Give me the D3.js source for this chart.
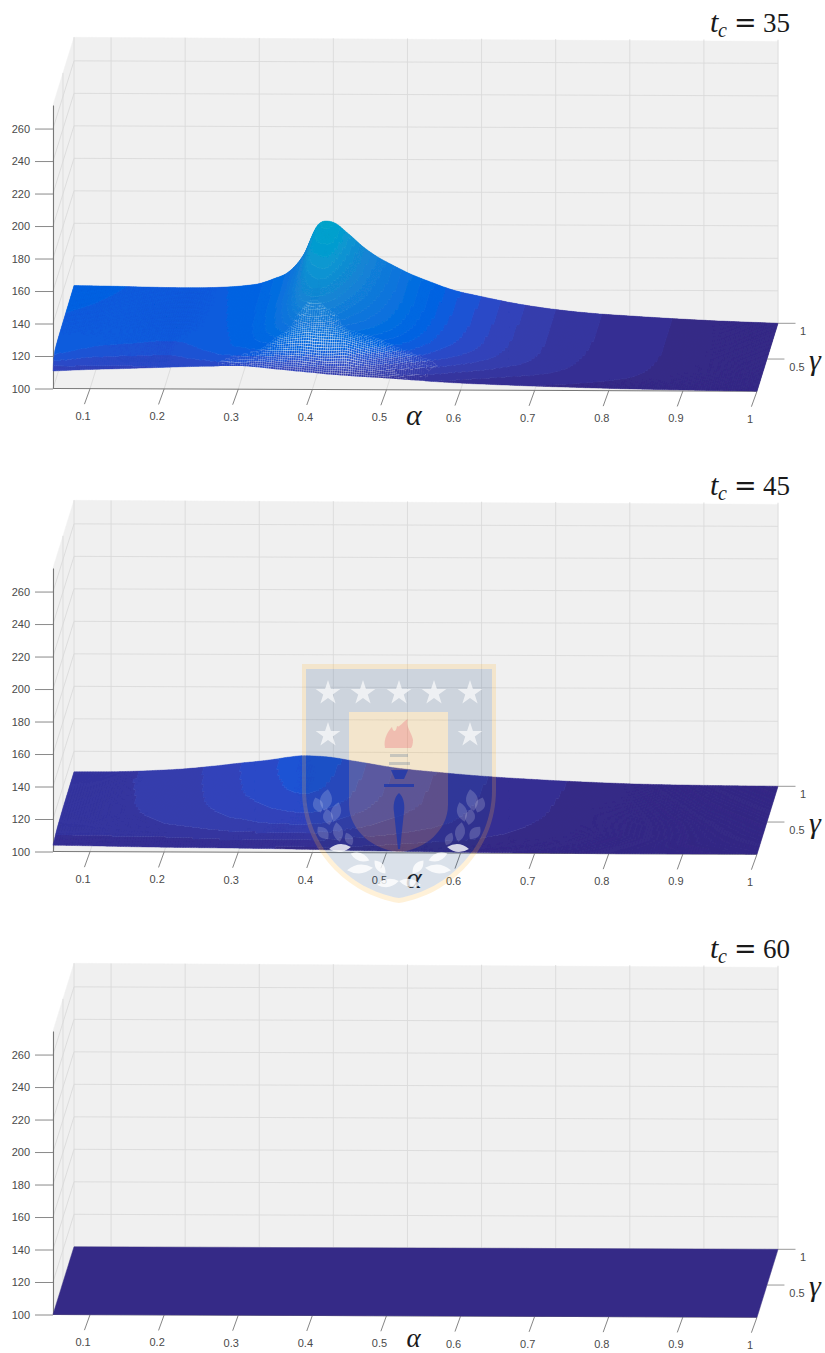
<!DOCTYPE html>
<html><head><meta charset="utf-8">
<script src="https://cdn.jsdelivr.net/npm/d3@7"></script>
<style>html,body{margin:0;padding:0;background:#fff}svg{display:block}</style>
</head><body><div id="chart"></div>
<script>
// ---- chart data ----
const titleValues = ["35", "45", "60"];
const alphaTicks = [0.1,0.2,0.3,0.4,0.5,0.6,0.7,0.8,0.9,1];
const gammaTicks = [0.5,1];
const zTicks = [100,120,140,160,180,200,220,240,260];
// surface nodes: one row per alpha, one column per gamma
const alphaNodes = [.05,.1,.15,.2,.25,.28,.3,.32,.34,.36,.38,.39,.4,.42,.44,.46,.48,.5,.53,.56,.6,.65,.7,.75,.8,.9,1];
const gammaNodes = [.05,.08,.12,.17,.25,.35,.5,.7,.85,1];
const z35 = [
[110.8,116,119,120,120.5,120.8,121,121.3,121.5,121.7],
[111.8,113.5,115.5,117.5,119,120,120.6,121,121.2,121.4],
[112.5,113.6,115,116.5,118.3,119.3,120,120.4,120.7,120.9],
[113.3,114,115,116,117.8,119,119.8,120.2,120.4,120.6],
[114,115.2,117,118.5,119.5,120,120.4,120.7,120.9,121],
[114.2,116.5,119,120.7,121,121.3,121.6,121.8,121.9,122],
[114.3,117,119.8,121.5,122.2,122.6,122.9,123.1,123.2,123.3],
[113.7,117,120.5,123,124.5,125.2,125.8,126.1,126.3,126.4],
[112.8,116.5,121,125,127.8,129,130,130.4,130.6,130.7],
[111.9,115.5,121,127.5,132.5,135,137.5,139.5,140.5,141.2],
[111,115,121,129,137.5,144,149,155,158,160],
[110.6,114.5,120.5,129.5,138.5,146,151,156.5,160,162],
[110.2,114,120,129,138.5,146,152,157,160,161.2],
[109.3,113,119.5,128.5,137.5,142.5,147,151,153,154.3],
[108.6,113,120,127.5,133.5,137,141,144.5,145.5,146.3],
[108,112,118,125,130.5,133.5,136.3,138.3,139.3,139.9],
[107.5,111,116,122.5,128,130.5,132.5,134,134.6,135],
[107,110,114.3,120,125,127.5,129,130,130.2,130.4],
[106.1,108.5,112,116.8,120.5,122.5,123.8,124.5,124.7,124.9],
[105.3,107.3,110,113.5,116.5,118,119,119.6,119.8,120],
[104.3,105.5,107.8,110.5,113,114.5,115.2,115.6,115.7,115.8],
[103.4,104.3,105.7,107.5,109.5,110.4,110.9,111.1,111.2,111.3],
[102.6,103.3,104.6,105.8,107,107.6,107.9,108,108,108],
[102,102.6,103.3,104.2,104.9,105.3,105.6,105.7,105.7,105.7],
[101.4,101.9,102.5,103.1,103.6,103.9,104.1,104.2,104.2,104.2],
[100.6,100.8,101.1,101.3,101.5,101.6,101.7,101.7,101.7,101.7],
[100,100,100,100,100,100,100,100,100,100]];
const z45 = [
[103.9,104.3,104.8,105.5,106.2,106.6,107,107.2,107.3,107.4],
[103.6,104.1,104.7,105.5,106.4,106.9,107.2,107.4,107.5,107.5],
[103.2,103.9,104.7,105.8,107,107.6,107.95,108.1,108.2,108.2],
[102.9,103.8,104.8,106.2,107.8,108.5,109,109.3,109.4,109.5],
[102.7,103.9,105.3,107.2,108.9,110,110.9,111.4,111.7,111.8],
[102.6,104,105.8,108,109.9,111,112.4,113,113.3,113.4],
[102.5,104,106,108.5,110.3,111.5,113.1,113.9,114.2,114.3],
[102.4,104,106.2,108.8,110.9,112.3,114,114.9,115.3,115.5],
[102.3,104,106.4,109.1,111.4,113.1,115,116,116.5,116.9],
[102.2,104,106.5,109.2,111.8,113.7,115.6,116.7,117.3,117.8],
[102,104,106.5,109.3,112,114,115.8,116.8,117.2,117.5],
[101.95,103.9,106.4,109.2,111.9,113.9,115.6,116.5,117,117.2],
[101.9,103.8,106.3,109,111.7,113.6,115.3,116.1,116.5,116.7],
[101.7,103.4,105.6,108.3,110.8,112.6,114.2,114.8,115,115.2],
[101.5,103,104.8,107.3,109.5,111.2,112.8,113.3,113.6,113.7],
[101.3,102.6,104.2,106.3,108.4,109.9,111.3,111.9,112.1,112.2],
[101.2,102.3,103.7,105.5,107.4,108.8,110,110.5,110.6,110.7],
[101.1,102,103.3,104.9,106.6,107.9,109,109.4,109.5,109.6],
[100.9,101.6,102.7,104.1,105.6,106.8,107.8,108.1,108.2,108.3],
[100.7,101.3,102.2,103.4,104.8,105.8,106.6,106.9,107,107.1],
[100.5,100.9,101.6,102.6,103.7,104.5,105.1,105.4,105.5,105.6],
[100.3,100.6,101.1,101.8,102.6,103.2,103.8,104,104.1,104.2],
[100.2,100.4,100.7,101.2,101.8,102.2,102.6,102.8,102.9,103],
[100.1,100.2,100.4,100.7,101.1,101.4,101.7,101.9,102,102],
[100,100.1,100.2,100.4,100.7,100.9,101.1,101.2,101.2,101.2],
[100,100,100.1,100.1,100.2,100.3,100.4,100.4,100.4,100.4],
[100,100,100,100,100,100,100,100,100,100]];
const alphaNodes60 = [.05,1];
const gammaNodes60 = [.05,1];
const z60 = [[100,100],[100,100]];
// colour ramp, one shade per colour band
const shades = ["#352a87","#363093","#36369f","#353dad","#3243ba","#2b4ac7","#2052d4","#0f5cdd","#0363e1","#0268e1","#046de0","#0871de","#0d75dc","#1079da","#127dd8","#1481d6","#1485d4","#1389d3","#108ed2","#0c93d2","#0998d1","#079ccf","#06a0cd","#06a4ca","#05a7c6","#07a9c2"];
const bandStep = 2.65, zFloor = 100;
// watermark shapes: [x, y, rotation, length, width]
const wmStars = [[328,693],[363,693],[399,693],[434,693],[470,693],[328,735],[470,735]];
const wmLeavesUpper = [[326,800,10,22,12],[318,805,-20,16,10],[336,812,15,20,10],[328,817,-10,16,10],[323,833,-40,16,10],[338,832,-10,20,10],[349,839,-25,14,8]];
const wmLeavesLower = [[340,848,85,22,8],[360,857,-70,20,8],[360,869,85,26,9],[380,867,-40,17,8],[388,883,80,22,8]];

// ---- layout ----
const W = 825, H = 1353, panelStep = 463;
const xFront = d3.scaleLinear().domain([.05,1]).range([53,757]);
const xBack  = d3.scaleLinear().domain([.05,1]).range([74,778]);
const yFront = d3.scaleLinear().domain([.05,1]).range([388.5,391.2]);
const yBack  = d3.scaleLinear().domain([.05,1]).range([320.8,323.3]);
const depth  = d3.scaleLinear().domain([.05,1]).range([0,1]);
const zAxisScale = d3.scaleLinear().domain([100,274.5]).range([388.5,105]);
const zRise = z => zAxisScale(z) - zAxisScale(100);
const bandIndex = d3.scaleQuantize().domain([zFloor, zFloor + bandStep*shades.length]).range(d3.range(shades.length));

function floorPoint(a,g){
  const t = depth(g);
  return [xFront(a)+(xBack(a)-xFront(a))*t, yFront(a)+(yBack(a)-yFront(a))*t];
}
function project(a,g,z){ const p = floorPoint(a,g); return [p[0], p[1]+zRise(z)]; }

// monotone cubic through the read nodes, only to draw a smooth surface between them
function smooth(xs,ys){
  const n=xs.length, h=[], s=[], m=new Array(n).fill(0);
  for(let i=0;i<n-1;i++){h[i]=xs[i+1]-xs[i]; s[i]=(ys[i+1]-ys[i])/h[i];}
  m[0]=s[0]; m[n-1]=s[n-2];
  for(let i=1;i<n-1;i++){
    if(s[i-1]*s[i]<=0) m[i]=0;
    else {
      const c=(h[i]*s[i-1]+h[i-1]*s[i])/(h[i]+h[i-1]);
      const lim=2.8*Math.min(Math.abs(s[i-1]),Math.abs(s[i]));
      m[i]=Math.sign(c)*Math.min(Math.abs(c),lim);
    }
  }
  const bis=d3.bisector(d=>d).right;
  return x=>{
    let i=Math.min(n-2,Math.max(0,bis(xs,x)-1));
    const t=(x-xs[i])/h[i],t2=t*t,t3=t2*t;
    return (2*t3-3*t2+1)*ys[i]+(t3-2*t2+t)*h[i]*m[i]+(-2*t3+3*t2)*ys[i+1]+(t3-t2)*h[i]*m[i+1];
  };
}

const svg = d3.select("#chart").append("svg").attr("width",W).attr("height",H).attr("viewBox",[0,0,W,H]);
const axisFont = "'Liberation Sans',Arial,sans-serif", mathFont = "'Liberation Serif','Times New Roman',serif";
const line = d3.line();
svg.append("defs").append("filter").attr("id","soft").attr("x","-2%").attr("y","-10%").attr("width","104%").attr("height","120%")
  .append("feGaussianBlur").attr("stdDeviation",.45);

function drawPanel(i, title, aNodes, gNodes, zGrid, nA, nG, meshGaps){
  const g = svg.append("g").attr("transform",`translate(0,${i*panelStep})`);
  const poly = pts => line(pts)+"Z";
  const zTop = 274.5;
  // walls and floor
  const walls = [
    [project(.05,1,100),project(1,1,100),project(1,1,zTop-1),project(.05,1,zTop)],
    [project(.05,.05,100),project(.05,1,100),project(.05,1,zTop),project(.05,.05,zTop)],
    [project(.05,.05,100),project(1,.05,100),project(1,1,100),project(.05,1,100)]
  ];
  g.selectAll("path.wall").data(walls).join("path").attr("class","wall").attr("d",poly).attr("fill","#f0f0f0").attr("stroke","#f0f0f0").attr("stroke-width",.5);
  // grid
  const grid = [];
  zTicks.forEach(z=>{ grid.push([project(.05,.05,z),project(.05,1,z),project(1,1,z)]); });
  alphaTicks.forEach(a=>{ grid.push([project(a,.05,100),project(a,1,100),project(a,1,zTop)]); });
  gammaTicks.forEach(c=>{ grid.push([project(.05,c,zTop),project(.05,c,100),project(1,c,100)]); });
  g.selectAll("path.grid").data(grid).join("path").attr("class","grid").attr("d",line).attr("fill","none").attr("stroke","#dadada").attr("stroke-width",.9);

  // axis lines and ticks
  const zAxis = d3.axisLeft(zAxisScale).tickValues(zTicks).tickSize(18).tickPadding(5).tickSizeOuter(0);
  const zG = g.append("g").attr("transform","translate(53,0)").call(zAxis);
  zG.selectAll("path.domain").attr("stroke","#777").attr("stroke-width",1.1);
  zG.selectAll("line").attr("stroke","#8a8a8a").attr("stroke-width",1);
  zG.selectAll("text").attr("font-family",axisFont).attr("font-size",11).attr("fill","#4a4a4a");
  g.append("path").attr("d",line([floorPoint(.05,.05),floorPoint(1,.05)])).attr("stroke","#777").attr("stroke-width",1.1).attr("fill","none");

  alphaTicks.forEach(a=>{
    const p = floorPoint(a,.05);
    g.append("line").attr("x1",p[0]).attr("y1",p[1]).attr("x2",p[0]-5.6).attr("y2",p[1]+15.5).attr("stroke","#777").attr("stroke-width",.9);
    g.append("text").attr("x",p[0]-7).attr("y",p[1]+31.5).attr("text-anchor","middle").attr("font-family",axisFont).attr("font-size",11).attr("fill","#4a4a4a").text(a);
  });
  gammaTicks.forEach(c=>{
    const p = floorPoint(1,c);
    g.append("line").attr("x1",p[0]).attr("y1",p[1]).attr("x2",p[0]+17.5).attr("y2",p[1]).attr("stroke","#999").attr("stroke-width",1);
    g.append("text").attr("x",p[0]+(c===1?25:30)).attr("y",p[1]+12).attr("text-anchor","middle").attr("font-family",axisFont).attr("font-size",11).attr("fill","#4a4a4a").text(c);
  });

  // surface: fine cells grouped per colour band
  const rowFns = gNodes.map((_,j)=>smooth(aNodes, zGrid.map(r=>r[j])));
  const aFine = d3.range(nA+1).map(k=>aNodes[0]+(aNodes[aNodes.length-1]-aNodes[0])*k/nA);
  const gFine = d3.range(nG+1).map(k=>gNodes[0]+(gNodes[gNodes.length-1]-gNodes[0])*k/nG);
  const Z = aFine.map(a=>{ const col=rowFns.map(fn=>fn(a)); const f=smooth(gNodes,col); return gFine.map(c=>f(c)); });
  const solid = shades.map(()=>[]), gapped = shades.map(()=>[]);
  const nominal = Math.abs(yBack(.5)-yFront(.5))*(1/nG);
  for(let ia=0;ia<nA;ia++) for(let ig=0;ig<nG;ig++){
    const corners=[[ia,ig],[ia+1,ig],[ia+1,ig+1],[ia,ig+1]].map(([p,q])=>project(aFine[p],gFine[q],Z[p][q]));
    const zm=(Z[ia][ig]+Z[ia+1][ig]+Z[ia+1][ig+1]+Z[ia][ig+1])/4;
    const k=bandIndex(zm);
    const stretch=((corners[0][1]-corners[3][1])+(corners[1][1]-corners[2][1]))/2/nominal;
    if(meshGaps && aFine[ia]>.22 && stretch>meshGaps){
      const f=Math.pow(meshGaps/stretch,.32);
      const cx=d3.mean(corners,c=>c[0]), cy=d3.mean(corners,c=>c[1]);
      gapped[k].push("M"+corners.map(c=>(cx+(c[0]-cx)*f).toFixed(2)+","+(cy+(c[1]-cy)*f).toFixed(2)).join("L")+"Z");
    } else {
      solid[k].push("M"+corners.map(c=>c[0].toFixed(1)+","+c[1].toFixed(1)).join("L")+"Z");
    }
  }
  const sg=g.append("g").attr("class","surface").attr("filter","url(#soft)");
  shades.forEach((c,k)=>{
    if(solid[k].length) sg.append("path").attr("d",solid[k].join("")).attr("fill",c).attr("stroke",c).attr("stroke-width",.45);
    if(gapped[k].length) sg.append("path").attr("d",gapped[k].join("")).attr("fill",c);
  });

  // labels
  const lab=(txt,x,y,size,style,anchor,family)=>g.append("text").attr("x",x).attr("y",y).attr("font-family",family||mathFont).attr("font-size",size).attr("font-style",style||"normal").attr("text-anchor",anchor||"start").attr("fill","#1a1a1a").text(txt);
  // the last panel's symbol sits right at the page edge, so it is lifted just enough to stay whole
  if(i===2) lab("α",406.5,421,27,"italic"); else lab("α",406,424.5,30,"italic");
  lab("γ",809,370,30,"italic");
  lab("t",710,32,30,"italic");
  lab("c",718,37,20,"italic");
  lab("=",734,32,27,"normal","start","'DejaVu Serif',serif");
  lab(title,790,32,27,"normal","end");
}

drawPanel(0,titleValues[0],alphaNodes,gammaNodes,z35,320,125,2.6);
drawPanel(1,titleValues[1],alphaNodes,gammaNodes,z45,260,70,0);
drawPanel(2,titleValues[2],alphaNodes60,gammaNodes60,z60,1,1,0);

// ---- watermark shield ----
const wm = svg.append("g").attr("class","watermark");
const outerP = "M302,664H496V790C496,850 450,895 399,903C348,895 302,850 302,790Z";
const innerP = "M306,669H492V790C492,846 448,890 399,898C350,890 306,846 306,790Z";
const centreP = "M349,712H448V805C448,830 425,850 399,852C373,850 349,830 349,805Z";
wm.append("path").attr("d",outerP+innerP).attr("fill-rule","evenodd").attr("fill","#ffb93c").attr("fill-opacity",.2);
wm.append("path").attr("d",innerP+centreP).attr("fill-rule","evenodd").attr("fill","#17457f").attr("fill-opacity",.16);
wm.append("path").attr("d",centreP).attr("fill","#ffb93c").attr("fill-opacity",.2);
const star = d3.range(10).map(k=>{const r=k%2?5:13,t=-Math.PI/2+k*Math.PI/5;return [r*Math.cos(t),r*Math.sin(t)];});
wm.selectAll("path.star").data(wmStars).join("path").attr("class","star").attr("d",line(star)+"Z").attr("transform",d=>`translate(${d[0]},${d[1]})`).attr("fill","#fff").attr("fill-opacity",.66);
wm.append("path").attr("d","M385,748C383,738 389,730 392,727C393,732 396,733 397,726C400,728 402,722 408,719C405,726 412,733 413,740C413,744 412,747 411,748Z").attr("fill","#e8304f").attr("fill-opacity",.22);
wm.append("path").attr("d","M390,754H408V757H390ZM389,762H410V765H389Z").attr("fill","#17457f").attr("fill-opacity",.2);
wm.append("path").attr("d","M391,770H408L404,779H395ZM384,784H414V787H384ZM399,793C394,797 393,806 394,812L398,849H400L404,812C405,806 404,797 399,793Z").attr("fill","#1634ad").attr("fill-opacity",.72);
const leaf = (l,w)=>`M0,${l/2}Q${w},0 0,${-l/2}Q${-w},0 0,${l/2}Z`;
const mirror = ls => ls.concat(ls.map(d=>[798-d[0],d[1],-d[2],d[3],d[4]]));
wm.selectAll("path.up").data(mirror(wmLeavesUpper)).join("path").attr("class","up").attr("d",d=>leaf(d[3],d[4])).attr("transform",d=>`translate(${d[0]},${d[1]}) rotate(${d[2]})`).attr("fill","#fff").attr("fill-opacity",.18);
wm.selectAll("path.low").data(mirror(wmLeavesLower)).join("path").attr("class","low").attr("d",d=>leaf(d[3],d[4])).attr("transform",d=>`translate(${d[0]},${d[1]}) rotate(${d[2]})`).attr("fill","#fff").attr("fill-opacity",.8);
</script></body></html>
